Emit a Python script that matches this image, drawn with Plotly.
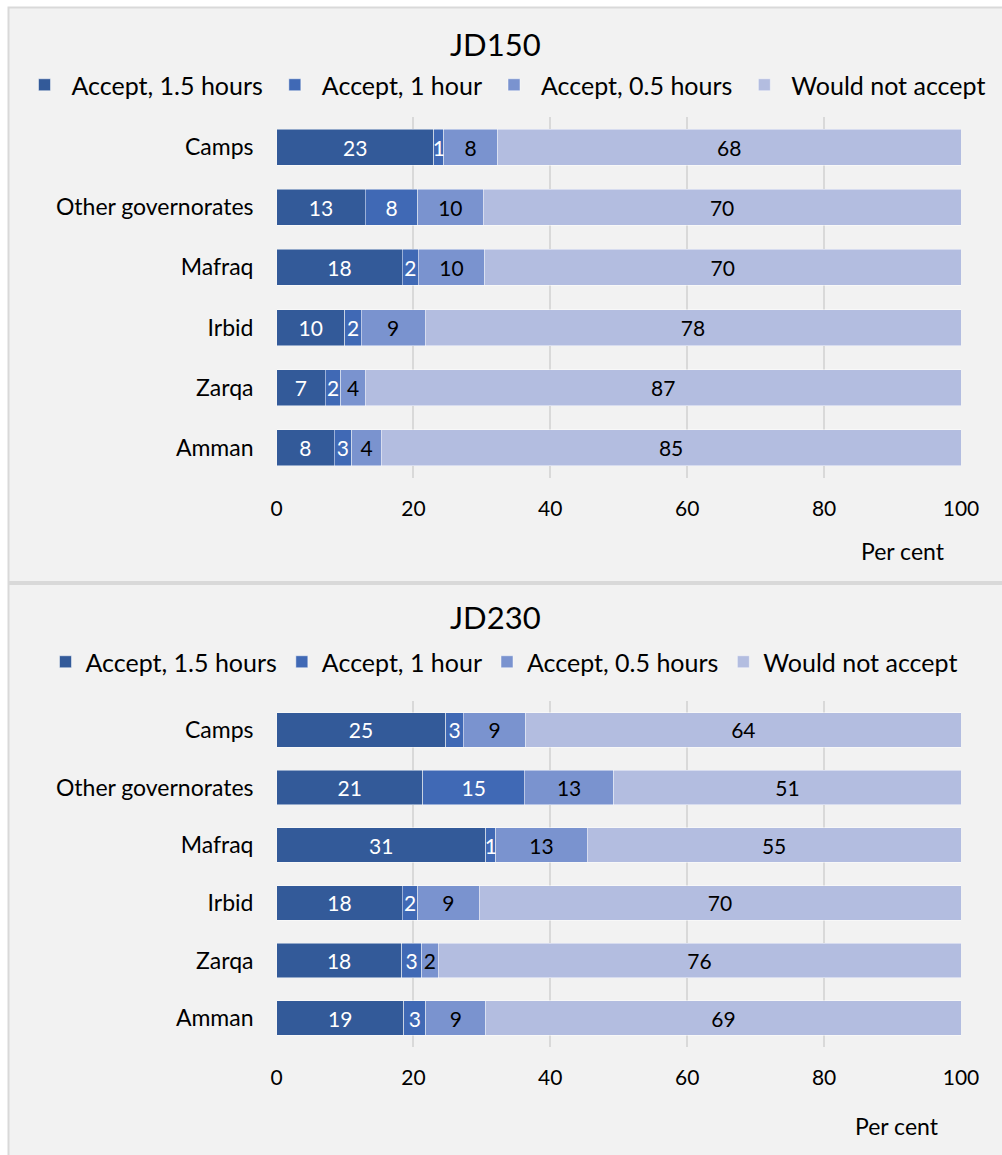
import plotly.graph_objects as go

categories = ["Camps", "Other governorates", "Mafraq", "Irbid", "Zarqa", "Amman"]
series_names = ["Accept, 1.5 hours", "Accept, 1 hour", "Accept, 0.5 hours", "Would not accept"]
colors = ["#335a99", "#4069b5", "#7a93cf", "#b3bde0"]
text_colors = ["#ffffff", "#ffffff", "#000000", "#000000"]

# JD150 panel (per cent)
jd150_15h = [23.0, 13.0, 18.4, 10.0, 7.1, 8.4]
jd150_1h = [1.4, 7.6, 2.3, 2.4, 2.3, 2.6]
jd150_05h = [7.9, 9.6, 9.7, 9.3, 3.6, 4.3]
jd150_no = [67.7, 69.8, 69.6, 78.3, 87.0, 84.7]

# JD230 panel (per cent)
jd230_15h = [24.7, 21.4, 30.6, 18.4, 18.3, 18.6]
jd230_1h = [2.6, 14.8, 1.4, 2.2, 2.9, 3.2]
jd230_05h = [9.1, 13.1, 13.4, 9.0, 2.4, 8.8]
jd230_no = [63.6, 50.7, 54.6, 70.4, 76.4, 69.4]

x_ticks = [0, 20, 40, 60, 80, 100]
panel_titles = ["JD150", "JD230"]
axis_title = "Per cent"

FONT = "Lato, 'Source Sans Pro', sans-serif"
W, H = 1002, 1155

def py(px):
    return 1 - px / H

fig = go.Figure()

panels = [
    (panel_titles[0], [jd150_15h, jd150_1h, jd150_05h, jd150_no], "x", "y", "legend"),
    (panel_titles[1], [jd230_15h, jd230_1h, jd230_05h, jd230_no], "x2", "y2", "legend2"),
]

for title, data, xa, ya, leg in panels:
    for name, vals, col, tc in zip(series_names, data, colors, text_colors):
        fig.add_trace(go.Bar(
            y=categories, x=vals, name=name, orientation="h",
            marker=dict(color=col, line=dict(color="rgba(255,255,255,0.6)", width=0.8)),
            texttemplate="%{x:.0f}", textposition="inside", insidetextanchor="middle",
            textangle=0, textfont=dict(color=tc, size=21, family=FONT),
            xaxis=xa, yaxis=ya, legend=leg, width=0.6, hoverinfo="skip",
        ))

xdom = [276.5 / W, 961 / W]
axis_common = dict(
    range=[0, 100], tickvals=x_ticks, showgrid=True, gridcolor="#d9d9d9", gridwidth=2,
    zeroline=False, showline=False, tickfont=dict(size=21, family=FONT, color="#000"),
    ticklabelstandoff=16, fixedrange=True, automargin=False,
)
yaxis_common = dict(
    categoryorder="array", categoryarray=categories, autorange="reversed",
    showgrid=False, zeroline=False, showline=False, automargin=False, fixedrange=True,
    tickfont=dict(size=23, family=FONT, color="#000"), ticklabelstandoff=22,
)

fig.update_layout(
    width=W, height=H, autosize=False, margin=dict(l=0, r=0, t=0, b=0, pad=0),
    paper_bgcolor="#ffffff", plot_bgcolor="#ffffff",
    barmode="stack", bargap=0.4,
    font=dict(family=FONT, color="#000"),
    uniformtext=dict(minsize=21, mode="show"),
    xaxis=dict(domain=xdom, anchor="y", **axis_common),
    yaxis=dict(domain=[py(478), py(117)], anchor="x", **yaxis_common),
    xaxis2=dict(domain=xdom, anchor="y2", **axis_common),
    yaxis2=dict(domain=[py(1047), py(701)], anchor="x2", **yaxis_common),
    legend=dict(orientation="h", x=0.503, xanchor="center", y=py(85), yanchor="middle",
                font=dict(size=25, family=FONT, color="#000"), bgcolor="rgba(0,0,0,0)",
                itemwidth=44, traceorder="normal"),
    legend2=dict(orientation="h", x=0.503, xanchor="center", y=py(662), yanchor="middle",
                 font=dict(size=25, family=FONT, color="#000"), bgcolor="rgba(0,0,0,0)",
                 itemwidth=30, traceorder="normal"),
    shapes=[
        dict(type="rect", xref="paper", yref="paper", x0=8.5 / W, x1=1.02, y0=py(582), y1=py(7.5),
             fillcolor="#f2f2f2", line=dict(color="#d9d9d9", width=2), layer="below"),
        dict(type="rect", xref="paper", yref="paper", x0=8.5 / W, x1=1.02, y0=-0.02, y1=py(584),
             fillcolor="#f2f2f2", line=dict(color="#d9d9d9", width=2), layer="below"),
    ],
    annotations=[
        dict(text=panel_titles[0], xref="paper", yref="paper", x=495 / W, y=py(44), showarrow=False,
             xanchor="center", yanchor="middle", font=dict(size=31, family=FONT, color="#000")),
        dict(text=panel_titles[1], xref="paper", yref="paper", x=495 / W, y=py(617), showarrow=False,
             xanchor="center", yanchor="middle", font=dict(size=31, family=FONT, color="#000")),
        dict(text=axis_title, xref="paper", yref="paper", x=903 / W, y=py(551), showarrow=False,
             xanchor="center", yanchor="middle", font=dict(size=23, family=FONT, color="#000")),
        dict(text=axis_title, xref="paper", yref="paper", x=897 / W, y=py(1126), showarrow=False,
             xanchor="center", yanchor="middle", font=dict(size=23, family=FONT, color="#000")),
    ],
)

fig.write_html("out.html", config={"displayModeBar": False},
               post_script="document.body.style.margin='0px';")
